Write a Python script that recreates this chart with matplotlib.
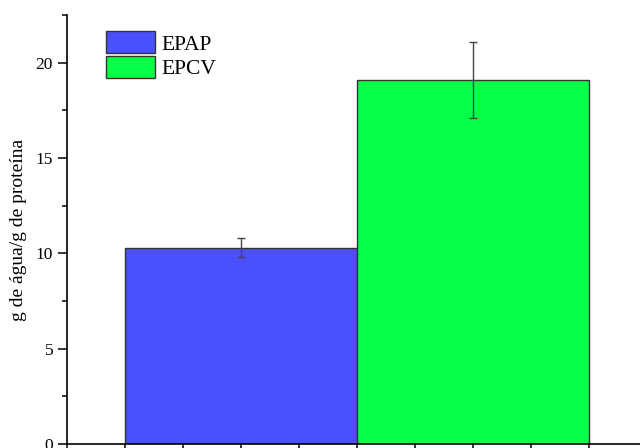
import numpy as np
import matplotlib
matplotlib.use("Agg")
import matplotlib.pyplot as plt
import matplotlib.patches as mpatches
from matplotlib.ticker import MultipleLocator

# data
categories = ["EPAP", "EPCV"]
values = [10.3, 19.1]
errors = [0.5, 2.0]
bar_colors = ["#4B50FF", "#06FF46"]

plt.rcParams["font.family"] = ["Liberation Serif", "DejaVu Serif"]

fig = plt.figure(figsize=(6.4, 4.48), dpi=100)
# axes run a bit past the right/bottom edge, like the cropped original
ax = fig.add_axes([0.1047, 0.0089, 0.906, 0.9576])

xpos = np.arange(len(categories)) + 1
ax.bar(xpos, values, width=1.0, color=bar_colors, edgecolor="#333333", linewidth=1.0)
ax.errorbar(xpos, values, yerr=errors, fmt="none", ecolor="#444444",
            elinewidth=1.0, capsize=3.2, capthick=1.0)

ax.set_xlim(0.25, 2.75)
ax.set_ylim(0, 22.5)
ax.xaxis.set_major_locator(MultipleLocator(0.25))
ax.yaxis.set_major_locator(MultipleLocator(5))
ax.yaxis.set_minor_locator(MultipleLocator(2.5))
ax.tick_params(axis="x", direction="out", length=6, width=1.1, labelbottom=False)
ax.tick_params(axis="y", which="major", direction="out", length=6.5, width=1.1, labelsize=12.5)
ax.tick_params(axis="y", which="minor", direction="out", length=3.8, width=1.1)

for side in ["top", "right"]:
    ax.spines[side].set_visible(False)
for side in ["left", "bottom"]:
    ax.spines[side].set_linewidth(1.2)

ax.set_ylabel("g de água/g de proteína", fontsize=14, labelpad=6)

handles = [mpatches.Patch(facecolor=c, edgecolor="#333333", linewidth=1.0) for c in bar_colors]
ax.legend(handles, categories, loc="upper left", bbox_to_anchor=(0.060, 0.972),
          frameon=False, fontsize=15.5, handlelength=2.25, handleheight=1.2,
          labelspacing=0.05, handletextpad=0.3, borderpad=0.2, borderaxespad=0.0)

fig.savefig("out.png", dpi=100)
